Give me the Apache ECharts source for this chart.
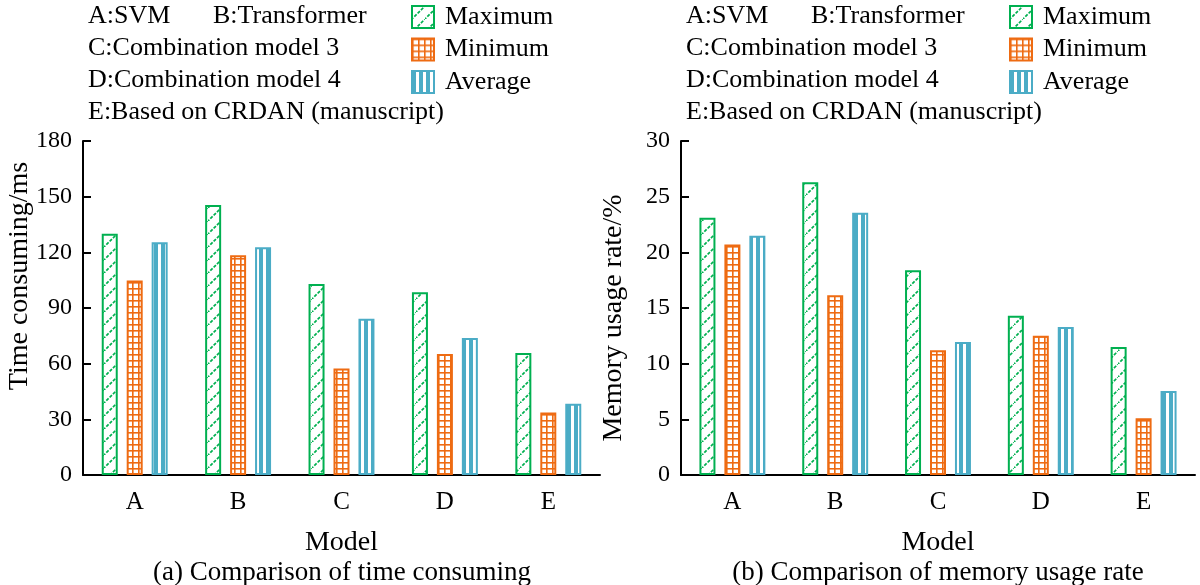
<!DOCTYPE html>
<html>
<head>
<meta charset="utf-8">
<script src="https://cdn.jsdelivr.net/npm/echarts@6/dist/echarts.min.js"></script>
<style>
html,body{margin:0;padding:0;background:#fff;}
#chart{width:1200px;height:585px;}
</style>
</head>
<body>
<div id="chart"></div>
<script>
// ---- Data ----
const categories = ['A', 'B', 'C', 'D', 'E'];
const seriesNames = ['Maximum', 'Minimum', 'Average'];
const timeMax = [130, 145.5, 103, 98.5, 65.8];
const timeMin = [104.8, 118.4, 57.4, 65.2, 33.7];
const timeAvg = [125.5, 122.8, 84.2, 73.8, 38.4];
const memMax = [23.1, 26.3, 18.4, 14.3, 11.5];
const memMin = [20.7, 16.15, 11.2, 12.5, 5.1];
const memAvg = [21.5, 23.55, 11.95, 13.3, 7.55];
const timeTicks = {min: 0, max: 180, interval: 30};
const memTicks = {min: 0, max: 30, interval: 5};
const modelNotes = ['A:SVM', 'B:Transformer', 'C:Combination model 3', 'D:Combination model 4', 'E:Based on CRDAN (manuscript)'];

// ---- Styles ----
const GREEN = '#00b050', ORANGE = '#ee6b12', BLUE = '#4bacc6';
const FONT = "'Liberation Serif', 'Times New Roman', serif";

function makeCanvas(w, h) { const c = document.createElement('canvas'); c.width = w; c.height = h; return c; }
function hatchPattern() {
  const c = makeCanvas(13, 13), g = c.getContext('2d');
  g.fillStyle = '#fff'; g.fillRect(0, 0, 13, 13);
  g.strokeStyle = GREEN; g.lineWidth = 1.7; g.setLineDash([3.2, 1.5]);
  g.beginPath(); g.moveTo(-1, 14); g.lineTo(14, -1); g.stroke();
  return c;
}
function gridPattern() {
  const c = makeCanvas(6, 6), g = c.getContext('2d');
  g.fillStyle = '#fff'; g.fillRect(0, 0, 6, 6);
  g.fillStyle = ORANGE; g.fillRect(0, 0, 6, 1.6); g.fillRect(0, 0, 1.6, 6);
  return c;
}
function stripePattern() {
  const c = makeCanvas(7, 4), g = c.getContext('2d');
  g.fillStyle = BLUE; g.fillRect(0, 0, 7, 4);
  g.fillStyle = '#fff'; g.fillRect(4, 0, 3, 4);
  return c;
}
const fills = [
  {image: hatchPattern(), repeat: 'repeat'},
  {image: gridPattern(), repeat: 'repeat'},
  {image: stripePattern(), repeat: 'repeat'}
];
const borders = [GREEN, ORANGE, BLUE];

const chart = echarts.init(document.getElementById('chart'), null, {renderer: 'canvas'});

const grids = [
  {left: 83, right: 600, top: 141, bottom: 110},
  {left: 681, right: 5, top: 141, bottom: 110}
];

function xAxisFor(i) {
  return {
    type: 'category', gridIndex: i, data: categories,
    axisLine: {lineStyle: {color: '#000', width: 2}},
    axisTick: {inside: true, length: 8, lineStyle: {color: '#000', width: 2}},
    axisLabel: {color: '#000', fontFamily: FONT, fontSize: 25, margin: 15},
    name: 'Model', nameLocation: 'middle', nameGap: 54,
    nameTextStyle: {color: '#000', fontFamily: FONT, fontSize: 28}
  };
}
function yAxisFor(i, t) {
  return {
    type: 'value', gridIndex: i, min: t.min, max: t.max, interval: t.interval,
    axisLine: {show: true, lineStyle: {color: '#000', width: 2}},
    axisTick: {show: true, inside: true, length: 8, lineStyle: {color: '#000', width: 2}},
    splitLine: {show: false},
    axisLabel: {color: '#000', fontFamily: FONT, fontSize: 24, margin: 11}
  };
}

function barSeries(name, data, idx, gi) {
  return {
    name: name, type: 'bar', xAxisIndex: gi, yAxisIndex: gi, data: data,
    barWidth: 16, barGap: '56%',
    itemStyle: {color: fills[idx], borderColor: borders[idx], borderWidth: 2},
    emphasis: {disabled: true}, animation: false
  };
}

const leftSets = [timeMax, timeMin, timeAvg];
const rightSets = [memMax, memMin, memAvg];
const series = [];
seriesNames.forEach((n, i) => series.push(barSeries(n, leftSets[i], i, 0)));
seriesNames.forEach((n, i) => series.push(barSeries(n, rightSets[i], i, 1)));

function legendAt(x) {
  return {
    orient: 'vertical', left: x, top: -1, itemWidth: 22, itemHeight: 22, itemGap: 6.5,
    data: seriesNames, selectedMode: false,
    textStyle: {color: '#000', fontFamily: FONT, fontSize: 26, padding: [0, 0, 0, 6]},
    icon: 'rect'
  };
}

function notes(x0) {
  const rowsY = [16.5, 48.5, 80.5, 112.5];
  const items = [
    {t: modelNotes[0], x: x0, y: rowsY[0]},
    {t: modelNotes[1], x: x0 + 125, y: rowsY[0]},
    {t: modelNotes[2], x: x0, y: rowsY[1]},
    {t: modelNotes[3], x: x0, y: rowsY[2]},
    {t: modelNotes[4], x: x0, y: rowsY[3]}
  ];
  return items.map(it => ({
    type: 'text', x: it.x, y: it.y,
    style: {text: it.t, fill: '#000', font: '26px ' + FONT, align: 'left', verticalAlign: 'middle'}
  }));
}

const graphics = [].concat(
  notes(88), notes(686),
  [
    {type: 'text', x: 20, y: 276, rotation: Math.PI / 2,
     style: {text: 'Time consuming/ms', fill: '#000', font: '28px ' + FONT, align: 'center', verticalAlign: 'middle'}},
    {type: 'text', x: 614, y: 318, rotation: Math.PI / 2,
     style: {text: 'Memory usage rate/%', fill: '#000', font: '28px ' + FONT, align: 'center', verticalAlign: 'middle'}},
    {type: 'text', x: 342, y: 573,
     style: {text: '(a) Comparison of time consuming', fill: '#000', font: '27px ' + FONT, align: 'center', verticalAlign: 'middle'}},
    {type: 'text', x: 938, y: 573,
     style: {text: '(b) Comparison of memory usage rate', fill: '#000', font: '27px ' + FONT, align: 'center', verticalAlign: 'middle'}}
  ]
);

chart.setOption({
  backgroundColor: '#fff',
  animation: false,
  grid: grids,
  xAxis: [xAxisFor(0), xAxisFor(1)],
  yAxis: [yAxisFor(0, timeTicks), yAxisFor(1, memTicks)],
  legend: [legendAt(406), legendAt(1004)],
  series: series,
  graphic: graphics
});
</script>
</body>
</html>
